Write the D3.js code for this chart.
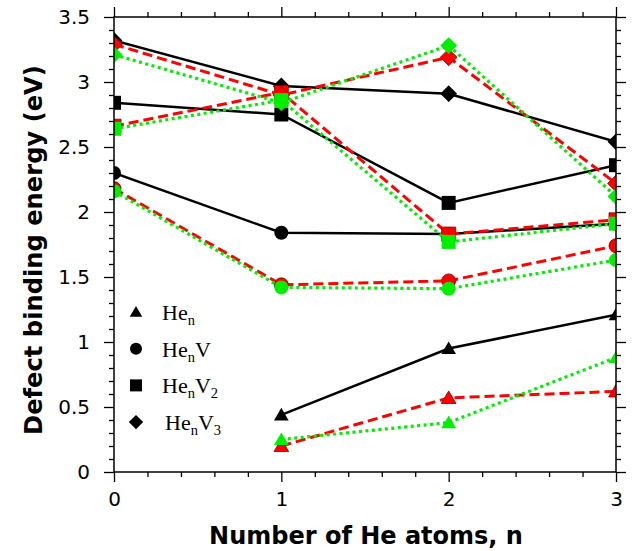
<!DOCTYPE html>
<html>
<head>
<meta charset="utf-8">
<script src="https://cdn.jsdelivr.net/npm/d3@7"></script>
<style>
  body { margin: 0; background: #fff; }
  svg { display: block; }
</style>
</head>
<body>
<div id="chart"></div>
<script>
// số nguyên tử He
const nValues = [0, 1, 2, 3];

// đường đen liền
const henBlack   = [null, 0.44, 0.95, 1.21];
const henVBlack  = [2.30, 1.84, 1.83, 1.91];
const henV2Black = [2.84, 2.75, 2.07, 2.36];
const henV3Black = [3.32, 2.97, 2.91, 2.54];

// đường đỏ nét đứt
const henRed   = [null, 0.20, 0.57, 0.62];
const henVRed  = [2.18, 1.44, 1.47, 1.74];
const henV2Red = [2.66, 2.92, 1.83, 1.94];
const henV3Red = [3.29, 2.90, 3.19, 2.22];

// đường xanh chấm
const henGreen   = [null, 0.25, 0.38, 0.88];
const henVGreen  = [2.16, 1.42, 1.41, 1.63];
const henV2Green = [2.64, 2.86, 1.77, 1.91];
const henV3Green = [3.21, 2.84, 3.28, 2.12];

const xTicks = [0, 1, 2, 3];
const yTicks = [0, 0.5, 1, 1.5, 2, 2.5, 3, 3.5];
const yTickLabels = ["0", "0.5", "1", "1.5", "2", "2.5", "3", "3.5"];

const legendLabels = [
  { type: "triangle", base: "He", sub: "n", v: "", vsub: "" },
  { type: "circle",   base: "He", sub: "n", v: "V", vsub: "" },
  { type: "square",   base: "He", sub: "n", v: "V", vsub: "2" },
  { type: "diamond",  base: "He", sub: "n", v: "V", vsub: "3" }
];

const W = 633, H = 551;
const margin = { top: 17, right: 17, bottom: 79, left: 114 };
const innerW = W - margin.left - margin.right;
const innerH = H - margin.top - margin.bottom;

const svg = d3.select("#chart").append("svg")
  .attr("width", W).attr("height", H);

const g = svg.append("g")
  .attr("transform", `translate(${margin.left},${margin.top})`);

const x = d3.scaleLinear().domain([0, 3]).range([0, innerW]);
const y = d3.scaleLinear().domain([0, 3.5]).range([innerH, 0]);

// ===== Trục =====
const tickFont = "'DejaVu Sans', sans-serif";
function styleAxis(sel) {
  sel.select(".domain").remove();
  sel.selectAll("line").attr("stroke", "#000").attr("stroke-width", 1.3);
  sel.selectAll("text").style("font-family", tickFont).style("font-size", "20px").attr("fill", "#000");
}

// major
g.append("g").attr("transform", `translate(0,${innerH})`)
  .call(d3.axisBottom(x).tickValues(xTicks).tickFormat(d3.format("d")).tickSize(10).tickPadding(10))
  .call(styleAxis);
g.append("g")
  .call(d3.axisTop(x).tickValues(xTicks).tickFormat("").tickSize(10))
  .call(styleAxis);
g.append("g")
  .call(d3.axisLeft(y).tickValues(yTicks).tickFormat((d, i) => yTickLabels[i]).tickSize(10).tickPadding(14))
  .call(styleAxis);
g.append("g").attr("transform", `translate(${innerW},0)`)
  .call(d3.axisRight(y).tickValues(yTicks).tickFormat("").tickSize(10))
  .call(styleAxis);

// minor
const xMinor = d3.range(0, 3.001, 0.2).filter(v => Math.abs(v - Math.round(v)) > 1e-6);
const yMinor = d3.range(0, 3.501, 0.1).filter(v => Math.abs(v * 2 - Math.round(v * 2)) > 1e-6);
g.append("g").attr("transform", `translate(0,${innerH})`)
  .call(d3.axisBottom(x).tickValues(xMinor).tickFormat("").tickSize(5)).call(styleAxis);
g.append("g")
  .call(d3.axisTop(x).tickValues(xMinor).tickFormat("").tickSize(5)).call(styleAxis);
g.append("g")
  .call(d3.axisLeft(y).tickValues(yMinor).tickFormat("").tickSize(5)).call(styleAxis);
g.append("g").attr("transform", `translate(${innerW},0)`)
  .call(d3.axisRight(y).tickValues(yMinor).tickFormat("").tickSize(5)).call(styleAxis);

// ===== Dữ liệu =====
svg.append("defs").append("clipPath").attr("id", "plot-clip")
  .append("rect").attr("width", innerW).attr("height", innerH);

const plot = g.append("g").attr("clip-path", "url(#plot-clip)");

function markerPath(type, s) {
  if (type === "triangle") return `M0,${-s} L${s * 1.05},${s * 0.8} L${-s * 1.05},${s * 0.8} Z`;
  if (type === "circle") return d3.symbol(d3.symbolCircle, Math.PI * s * s)();
  if (type === "square") return `M${-s},${-s} H${s} V${s} H${-s} Z`;
  return `M0,${-s * 1.2} L${s * 1.2},0 L0,${s * 1.2} L${-s * 1.2},0 Z`;
}

const groups = [
  { color: "#000000", dash: null, width: 2.5, stroke: null,
    sets: [["triangle", henBlack], ["circle", henVBlack], ["square", henV2Black], ["diamond", henV3Black]] },
  { color: "#ff0000", dash: "10,5", width: 3, stroke: "#7a0000",
    sets: [["triangle", henRed], ["circle", henVRed], ["square", henV2Red], ["diamond", henV3Red]] },
  { color: "#00ee00", dash: "3,3.5", width: 3.2, stroke: null,
    sets: [["triangle", henGreen], ["circle", henVGreen], ["square", henV2Green], ["diamond", henV3Green]] }
];

const line = d3.line()
  .defined(d => d.v != null)
  .x(d => x(d.n))
  .y(d => y(d.v));

groups.forEach(grp => {
  grp.sets.forEach(([type, vals]) => {
    const pts = nValues.map((n, i) => ({ n, v: vals[i] }));
    plot.append("path")
      .datum(pts)
      .attr("d", line)
      .attr("fill", "none")
      .attr("stroke", grp.color)
      .attr("stroke-width", grp.width)
      .attr("stroke-dasharray", grp.dash);
    plot.selectAll(null)
      .data(pts.filter(d => d.v != null))
      .enter().append("path")
        .attr("d", markerPath(type, 7))
        .attr("transform", d => `translate(${x(d.n)},${y(d.v)})`)
        .attr("fill", grp.color)
        .attr("stroke", grp.stroke || "none")
        .attr("stroke-width", 0.8);
  });
});

// khung
g.append("rect")
  .attr("width", innerW).attr("height", innerH)
  .attr("fill", "none").attr("stroke", "#000").attr("stroke-width", 1.5);

// ===== Chú thích =====
const legend = g.append("g").attr("transform", "translate(22,295)");
legendLabels.forEach((d, i) => {
  const row = legend.append("g").attr("transform", `translate(0,${i * 36.7})`);
  row.append("path").attr("d", markerPath(d.type, 6)).attr("fill", "#000");
  const t = row.append("text")
    .attr("x", d.type === "diamond" ? 29 : 26)
    .attr("y", 8)
    .style("font-family", "'Liberation Serif', 'Times New Roman', serif")
    .style("font-size", "22px")
    .attr("fill", "#000");
  t.append("tspan").text(d.base);
  t.append("tspan").attr("dy", 5).style("font-size", "14.5px").text(d.sub);
  if (d.v) t.append("tspan").attr("dy", -5).text(d.v);
  if (d.vsub) t.append("tspan").attr("dy", 5).style("font-size", "14.5px").text(d.vsub);
});

// ===== Nhãn trục =====
svg.append("text")
  .attr("x", 366)
  .attr("y", 544)
  .attr("text-anchor", "middle")
  .style("font-family", tickFont)
  .style("font-weight", "bold")
  .style("font-size", "24px")
  .text("Number of He atoms, n");

svg.append("text")
  .attr("transform", "translate(42,250) rotate(-90)")
  .attr("text-anchor", "middle")
  .style("font-family", tickFont)
  .style("font-weight", "bold")
  .style("font-size", "24.2px")
  .text("Defect binding energy (eV)");
</script>
</body>
</html>
